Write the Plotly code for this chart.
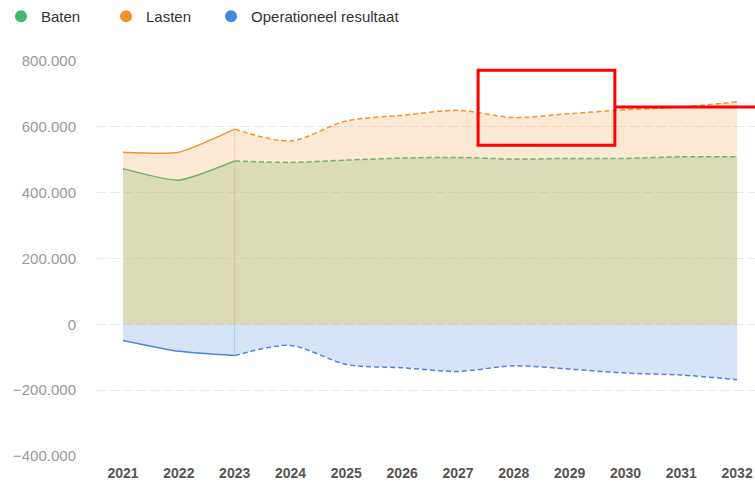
import plotly.graph_objects as go

years = [2021, 2022, 2023, 2024, 2025, 2026, 2027, 2028, 2029, 2030, 2031, 2032]
baten = [473000, 438000, 496000, 492000, 499000, 505000, 507000, 502000, 504000, 504000, 509000, 509000]
lasten = [523000, 523000, 593000, 557000, 618000, 635000, 650000, 628000, 640000, 652000, 660000, 676000]
resultaat = [-49000, -82000, -95000, -64000, -122000, -132000, -143000, -126000, -136000, -148000, -154000, -168000]
y_ticks = [-400000, -200000, 0, 200000, 400000, 600000, 800000]
split_year = 2023  # solid (realised) up to here, dashed (forecast) after

series = [
    ("Lasten", lasten, "#f0932b", "rgba(240,147,43,0.2)"),
    ("Baten", baten, "#6db36a", "rgba(124,181,101,0.25)"),
    ("Operationeel resultaat", resultaat, "#4a86e0", "rgba(74,134,224,0.22)"),
]

fig = go.Figure()
k = years.index(split_year)
for name, vals, lc, fc in series:
    fig.add_trace(go.Scatter(x=years[:k + 1], y=vals[:k + 1], mode="lines",
                             line=dict(color=lc, width=1.5, shape="spline", smoothing=0.55),
                             fill="tozeroy", fillcolor=fc, showlegend=False, hoverinfo="skip"))
    fig.add_trace(go.Scatter(x=years[k:], y=vals[k:], mode="lines",
                             line=dict(color=lc, width=1.5, dash="5px,3px", shape="spline", smoothing=0.8),
                             fill="tozeroy", fillcolor=fc, showlegend=False, hoverinfo="skip"))

# faint seam at split year
seams = [
    ([lasten[k], baten[k]], "rgba(230,160,80,0.35)"),
    ([baten[k], 0], "rgba(170,160,90,0.35)"),
    ([0, resultaat[k]], "rgba(74,134,224,0.3)"),
]
for yy, c in seams:
    fig.add_trace(go.Scatter(x=[split_year, split_year], y=yy, mode="lines",
                             line=dict(color=c, width=1), showlegend=False, hoverinfo="skip"))

# legend entries, each in its own legend box for exact spacing
legend_items = [("Baten", "#3dba6f", "legend"), ("Lasten", "#f0932b", "legend2"),
                ("Operationeel resultaat", "#4287e0", "legend3")]
for name, mc, lg in legend_items:
    fig.add_trace(go.Scatter(x=[None], y=[None], mode="markers", name=name, legend=lg,
                             marker=dict(color=mc, size=15, symbol="circle")))

# red highlight box (overlay in reference)
fig.add_shape(type="rect", xref="x", yref="y", x0=2027.36, x1=2029.81, y0=544000, y1=772000,
              line=dict(color="red", width=3))
fig.add_shape(type="line", xref="x", yref="y", x0=2029.81, x1=2032.5, y0=660000, y1=660000,
              line=dict(color="red", width=3))

leg_common = dict(orientation="h", y=1.1544, xanchor="left", yanchor="top",
                  font=dict(size=15, color="#333333"), itemsizing="constant",
                  bgcolor="rgba(0,0,0,0)")

fig.update_layout(
    width=755, height=482,
    margin=dict(l=97, r=0, t=61, b=26, autoexpand=False),
    paper_bgcolor="white", plot_bgcolor="white",
    separators=",.",
    font=dict(family="Liberation Sans, Arial, sans-serif"),
    showlegend=True,
    legend=dict(x=-0.1459, **leg_common),
    legend2=dict(x=0.0137, **leg_common),
    legend3=dict(x=0.1733, **leg_common),
    xaxis=dict(range=[2020.534, 2032.32], tickmode="array", tickvals=years,
               ticktext=[str(y) for y in years], showgrid=False, zeroline=False,
               showline=False, ticks="", ticklabelstandoff=7,
               tickfont=dict(size=14, color="#555555", family="Liberation Sans, Arial, sans-serif", weight="bold")),
    yaxis=dict(range=[-400000, 800000], tickmode="array", tickvals=y_ticks,
               tickformat=",.0f", showgrid=True, gridcolor="#e9ecef", griddash="10px,3px",
               gridwidth=1, zeroline=False, showline=False, ticks="",
               ticklabelstandoff=20,
               tickfont=dict(size=15, color="#999999")),
)

fig.write_html("out.html", config={"displayModeBar": False},
               post_script="document.body.style.margin='0';")
